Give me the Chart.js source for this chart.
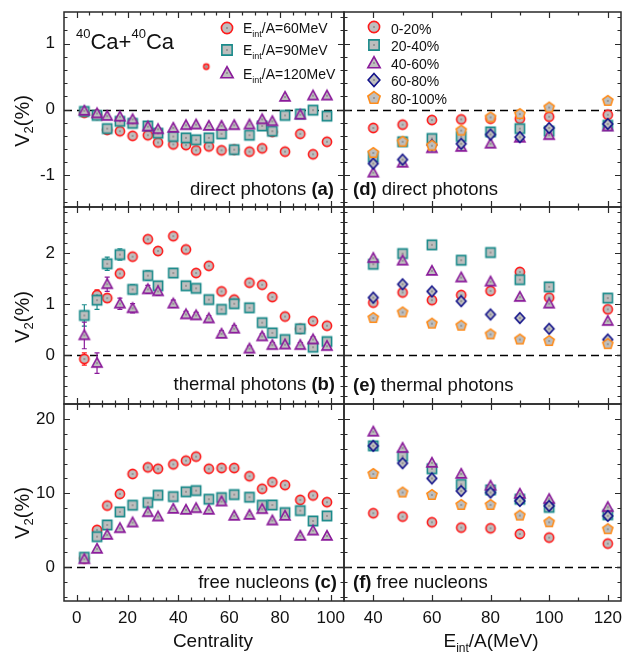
<!DOCTYPE html>
<html>
<head>
<meta charset="utf-8">
<script src="https://cdn.jsdelivr.net/npm/chart.js@4.4.1/dist/chart.umd.min.js"></script>
<style>
  html, body { margin: 0; padding: 0; background: #fff; }
  #fig { position: relative; width: 627px; height: 657px; overflow: hidden;
         font-family: "Liberation Sans", Arial, Helvetica, sans-serif; color: #111; }
  #fig canvas.panel { position: absolute; left: 0; top: 0; }
  .txt { position: absolute; white-space: nowrap; line-height: 1; }
  .txt sub { font-size: 9px; vertical-align: -4px; line-height: 0; }
  .big sub { font-size: 12px; vertical-align: -5px; }
  .txt sup { font-size: 13px; vertical-align: 11px; line-height: 0; }
  .ytitle { font-size: 20px; transform: translate(-50%, -50%) rotate(-90deg); }
  .ytitle sub { font-size: 13px; vertical-align: -4px; }
  .icon { position: absolute; }
</style>
</head>
<body>
<div id="fig">
  <canvas id="pa" class="panel" width="627" height="657"></canvas>
  <canvas id="pb" class="panel" width="627" height="657"></canvas>
  <canvas id="pc" class="panel" width="627" height="657"></canvas>
  <canvas id="pd" class="panel" width="627" height="657"></canvas>
  <canvas id="pe" class="panel" width="627" height="657"></canvas>
  <canvas id="pf" class="panel" width="627" height="657"></canvas>

  <div class="txt" style="left:76px; top:31.4px; font-size:22px;"><sup>40</sup>Ca+<sup>40</sup>Ca</div>

  <div class="txt" style="left:243px; top:21.4px; font-size:14px;">E<sub>int</sub>/A=60MeV</div>
  <div class="txt" style="left:243px; top:43.1px; font-size:14px;">E<sub>int</sub>/A=90MeV</div>
  <div class="txt" style="left:243px; top:66.6px; font-size:14px;">E<sub>int</sub>/A=120MeV</div>

  <div class="txt" style="left:391px; top:21.6px; font-size:14px;">0-20%</div>
  <div class="txt" style="left:391px; top:39.1px; font-size:14px;">20-40%</div>
  <div class="txt" style="left:391px; top:56.6px; font-size:14px;">40-60%</div>
  <div class="txt" style="left:391px; top:74.1px; font-size:14px;">60-80%</div>
  <div class="txt" style="left:391px; top:91.6px; font-size:14px;">80-100%</div>

  <div class="txt" style="right:293px; top:179.8px; font-size:18.5px;">direct photons <b>(a)</b></div>
  <div class="txt" style="left:353px; top:179.8px; font-size:18.5px;"><b>(d)</b> direct photons</div>
  <div class="txt" style="right:292px; top:375.3px; font-size:18.5px;">thermal photons <b>(b)</b></div>
  <div class="txt" style="left:353px; top:375.8px; font-size:18.5px;"><b>(e)</b> thermal photons</div>
  <div class="txt" style="right:290px; top:573.3px; font-size:18.5px;">free nucleons <b>(c)</b></div>
  <div class="txt" style="left:353px; top:573.3px; font-size:18.5px;"><b>(f)</b> free nucleons</div>

  <div class="txt" style="left:213px; top:631.2px; font-size:19px; transform:translateX(-50%);">Centrality</div>
  <div class="txt big" style="left:491px; top:631.2px; font-size:19px; transform:translateX(-50%);">E<sub>int</sub>/A(MeV)</div>

  <div class="txt ytitle" style="left:22px; top:121px;">V<sub>2</sub>(%)</div>
  <div class="txt ytitle" style="left:22px; top:317px;">V<sub>2</sub>(%)</div>
  <div class="txt ytitle" style="left:22px; top:513px;">V<sub>2</sub>(%)</div>
</div>

<script>
// x values
const centrality = [3, 8, 12, 17, 22, 28, 32, 38, 43, 47, 52, 57, 62, 68, 73, 77, 82, 88, 93, 98.5];
const energy = [40, 50, 60, 70, 80, 90, 100, 120];

// (a) direct photons vs centrality
const dirPh60 = [-0.05, -0.08, -0.31, -0.33, -0.40, -0.39, -0.50, -0.53, -0.54, -0.62, -0.56, -0.62, -0.61, -0.64, -0.59, -0.34, -0.64, -0.37, -0.68, -0.49];
const dirPh90 = [-0.03, -0.09, -0.29, -0.18, -0.21, -0.25, -0.36, -0.41, -0.43, -0.46, -0.43, -0.37, -0.61, -0.39, -0.25, -0.33, -0.09, -0.07, -0.01, -0.10];
const dirPh120 = [-0.02, -0.06, -0.10, -0.11, -0.15, -0.26, -0.30, -0.28, -0.24, -0.23, -0.25, -0.25, -0.24, -0.23, -0.15, -0.18, 0.19, -0.08, 0.21, 0.21];
const strayCent = [51];
const strayV2 = [0.65];

// (b) thermal photons vs centrality
const thPh60 = [-0.07, 1.18, 1.12, 1.60, 1.93, 2.27, 2.04, 2.33, 2.07, 1.61, 1.75, 1.25, 1.09, 1.42, 1.38, 1.14, 0.76, 0.52, 0.67, 0.58];
const thPh90 = [0.78, 1.08, 1.79, 1.97, 1.29, 1.56, 1.36, 1.61, 1.36, 1.31, 1.09, 0.90, 1.01, 0.93, 0.64, 0.44, 0.31, 0.52, 0.16, 0.27];
const thPh120 = [0.39, -0.15, 1.39, 1.01, 0.92, 1.29, 1.25, 1.01, 0.80, 0.78, 0.72, 0.42, 0.52, 0.13, 0.37, 0.20, 0.21, 0.20, 0.31, 0.18];
const thErr60 = [0.12, 0.10, 0.08, 0.08, 0.07, 0.07, 0.07, 0.07, 0.06, 0.06, 0.06, 0.05, 0.05, 0.05, 0.05, 0.05, 0.05, 0.05, 0.05, 0.05];
const thErr90 = [0.21, 0.18, 0.13, 0.11, 0.09, 0.09, 0.08, 0.07, 0.07, 0.06, 0.06, 0.05, 0.05, 0.05, 0.05, 0.05, 0.05, 0.05, 0.05, 0.05];
const thErr120 = [0.26, 0.20, 0.14, 0.11, 0.09, 0.08, 0.08, 0.07, 0.06, 0.06, 0.06, 0.06, 0.06, 0.05, 0.05, 0.05, 0.05, 0.05, 0.05, 0.05];

// (c) free nucleons vs centrality
const nuc60 = [1.2, 5.05, 8.33, 9.91, 12.6, 13.5, 13.3, 13.9, 14.4, 14.95, 13.3, 13.4, 13.4, 12.3, 10.6, 11.5, 11.1, 9.1, 9.7, 8.8];
const nuc90 = [1.35, 4.14, 5.72, 7.48, 8.38, 8.74, 9.73, 9.55, 10.2, 10.36, 9.19, 9.41, 9.82, 9.46, 8.38, 8.42, 7.39, 7.66, 6.26, 6.94];
const nuc120 = [1.08, 2.48, 4.37, 5.27, 6.04, 7.43, 6.85, 7.88, 7.75, 7.97, 7.75, 8.87, 6.94, 7.07, 7.84, 6.31, 6.94, 4.23, 4.95, 4.23];

// (d) direct photons vs energy, centrality classes
const dirE0 = [-0.28, -0.23, -0.16, -0.15, -0.14, -0.14, -0.11, -0.08];
const dirE20 = [-0.72, -0.49, -0.44, -0.41, -0.34, -0.29, -0.33, -0.24];
const dirE40 = [-0.96, -0.81, -0.59, -0.57, -0.52, -0.43, -0.39, -0.26];
const dirE60 = [-0.82, -0.76, -0.54, -0.52, -0.38, -0.42, -0.28, -0.22];
const dirE80 = [-0.66, -0.49, -0.55, -0.32, -0.12, -0.07, 0.03, 0.13];

// (e) thermal photons vs energy
const thE0 = [1.03, 1.23, 1.08, 1.18, 1.26, 1.63, 1.13, 0.90];
const thE20 = [1.78, 1.99, 2.16, 1.86, 2.01, 1.48, 1.34, 1.12];
const thE40 = [1.90, 1.85, 1.65, 1.52, 1.44, 1.14, 1.01, 0.67];
const thE60 = [1.13, 1.39, 1.25, 1.06, 0.80, 0.73, 0.52, 0.31];
const thE80 = [0.73, 0.84, 0.62, 0.58, 0.41, 0.31, 0.28, 0.22];

// (f) free nucleons vs energy
const nucE0 = [7.30, 6.85, 6.08, 5.36, 5.27, 4.50, 4.01, 3.20];
const nucE20 = [16.4, 15.0, 13.3, 11.2, 10.45, 9.19, 8.1, 7.1];
const nucE40 = [18.3, 16.1, 14.1, 12.6, 11.0, 9.91, 9.19, 8.11];
const nucE60 = [16.4, 14.05, 12.0, 10.3, 10.1, 8.96, 8.29, 6.94];
const nucE80 = [12.6, 10.1, 9.77, 8.42, 8.42, 6.98, 6.08, 5.14];

// tick labels
const xTicksCent = [0, 20, 40, 60, 80, 100];
const xTicksEnergy = [40, 60, 80, 100, 120];
const yTicksDirect = [-1, 0, 1];
const yTicksThermal = [0, 1, 2];
const yTicksNucleon = [0, 10, 20];

const FONT = '"Liberation Sans", Arial, Helvetica, sans-serif';
const W = 627, H = 657, XAXIS_H = 56;
const COLS = { left: { l: 64, r: 344 }, right: { l: 344, r: 624 } };
const ROWS = [{ t: 12, b: 207 }, { t: 207, b: 404 }, { t: 404, b: 601 }];

const RED = '#ff1a1a', TEAL = '#1a8a8a', PURPLE = '#8a1a9a', NAVY = '#12128a', ORANGE = '#ff8c1a';
const FILL = '#bebebe';

function drawMarker(ctx, shape, cx, cy, r, stroke) {
  ctx.beginPath();
  if (shape === 'circle') {
    ctx.arc(cx, cy, r, 0, Math.PI * 2);
  } else if (shape === 'square') {
    ctx.rect(cx - r, cy - r, 2 * r, 2 * r);
  } else if (shape === 'triangle') {
    ctx.moveTo(cx, cy - 1.15 * r);
    ctx.lineTo(cx + 1.1 * r, cy + 0.85 * r);
    ctx.lineTo(cx - 1.1 * r, cy + 0.85 * r);
    ctx.closePath();
  } else if (shape === 'diamond') {
    ctx.moveTo(cx, cy - 1.15 * r);
    ctx.lineTo(cx + 1.05 * r, cy);
    ctx.lineTo(cx, cy + 1.15 * r);
    ctx.lineTo(cx - 1.05 * r, cy);
    ctx.closePath();
  } else if (shape === 'pentagon') {
    for (let k = 0; k < 5; k++) {
      const a = -Math.PI / 2 + k * 2 * Math.PI / 5;
      const px = cx + 1.15 * r * Math.cos(a), py = cy + 1.15 * r * Math.sin(a);
      k ? ctx.lineTo(px, py) : ctx.moveTo(px, py);
    }
    ctx.closePath();
  }
  ctx.fillStyle = FILL;
  ctx.fill();
  ctx.lineWidth = 1.6;
  ctx.strokeStyle = stroke;
  ctx.stroke();
  ctx.fillStyle = '#555';
  ctx.fillRect(cx - 0.6, cy - 0.6, 1.2, 1.2);
}

function makeMarker(shape, stroke, r) {
  const s = 2 * Math.ceil(1.3 * r + 2);
  const c = document.createElement('canvas');
  c.width = s; c.height = s;
  drawMarker(c.getContext('2d'), shape, s / 2, s / 2, r, stroke);
  return c;
}

function addIcon(shape, stroke, cx, cy, r) {
  const c = makeMarker(shape, stroke, r);
  c.className = 'icon';
  c.style.left = (cx - c.width / 2) + 'px';
  c.style.top = (cy - c.height / 2) + 'px';
  document.getElementById('fig').appendChild(c);
}

const R = 4.6;
const mk = {
  circle: makeMarker('circle', RED, R),
  square: makeMarker('square', TEAL, R),
  triangle: makeMarker('triangle', PURPLE, R),
  diamond: makeMarker('diamond', NAVY, R),
  pentagon: makeMarker('pentagon', ORANGE, R),
  small: makeMarker('circle', RED, 2.6)
};

// dashed zero line, frame and inward ticks on all four sides
const frameTicks = {
  id: 'frameTicks',
  beforeDatasetsDraw(chart) {
    const { left, right } = chart.chartArea;
    const ctx = chart.ctx;
    const y0 = Math.round(chart.scales.y.getPixelForValue(0)) + 0.5;
    ctx.save();
    ctx.strokeStyle = '#000';
    ctx.lineWidth = 1.4;
    ctx.setLineDash([8, 5]);
    ctx.beginPath();
    ctx.moveTo(left, y0);
    ctx.lineTo(right, y0);
    ctx.stroke();
    ctx.restore();
  },
  afterDatasetsDraw(chart, args, opts) {
    const area = chart.chartArea;
    const ctx = chart.ctx;
    ctx.save();
    ctx.strokeStyle = '#2a2a2a';
    ctx.lineWidth = 1.2;
    const sides = [
      [chart.scales.x, true, opts.xMajor, opts.xMinor],
      [chart.scales.y, false, opts.yMajor, opts.yMinor]
    ];
    ctx.beginPath();
    sides.forEach(([scale, horiz, major, step]) => {
      const list = major.map(v => [v, 6]);
      const k0 = Math.ceil(scale.min / step - 1e-9), k1 = Math.floor(scale.max / step + 1e-9);
      for (let k = k0; k <= k1; k++) {
        const v = +(k * step).toFixed(6);
        if (!major.some(m => Math.abs(m - v) < 1e-9)) list.push([v, 3.5]);
      }
      list.forEach(([v, len]) => {
        const p = Math.round(scale.getPixelForValue(v)) + 0.5;
        if (horiz) {
          if (p < area.left + 2 || p > area.right - 2) return;
          ctx.moveTo(p, area.top); ctx.lineTo(p, area.top + len);
          ctx.moveTo(p, area.bottom); ctx.lineTo(p, area.bottom - len);
        } else {
          if (p < area.top + 2 || p > area.bottom - 2) return;
          ctx.moveTo(area.left, p); ctx.lineTo(area.left + len, p);
          ctx.moveTo(area.right, p); ctx.lineTo(area.right - len, p);
        }
      });
    });
    ctx.stroke();
    ctx.lineWidth = 1.5;
    ctx.strokeRect(area.left, area.top, area.right - area.left, area.bottom - area.top);
    ctx.restore();
  }
};

const errorBars = {
  id: 'errorBars',
  beforeDatasetsDraw(chart) {
    const ctx = chart.ctx, ys = chart.scales.y;
    chart.data.datasets.forEach((ds, i) => {
      if (!ds.errors) return;
      const meta = chart.getDatasetMeta(i);
      ctx.save();
      ctx.strokeStyle = ds.errColor;
      ctx.lineWidth = 1.2;
      ctx.beginPath();
      meta.data.forEach((pt, k) => {
        const v = ds.data[k].y, e = ds.errors[k];
        const y1 = ys.getPixelForValue(v + e), y2 = ys.getPixelForValue(v - e);
        ctx.moveTo(pt.x, y1); ctx.lineTo(pt.x, y2);
        ctx.moveTo(pt.x - 2.5, y1); ctx.lineTo(pt.x + 2.5, y1);
        ctx.moveTo(pt.x - 2.5, y2); ctx.lineTo(pt.x + 2.5, y2);
      });
      ctx.stroke();
      ctx.restore();
    });
  }
};

function panel(id, p) {
  const isLeft = p.col === 'left';
  const col = COLS[p.col];
  const row = ROWS[p.row];
  const showX = p.row === 2;
  const tickFont = { family: FONT, size: 17 };
  const n = p.series.length;
  return new Chart(document.getElementById(id), {
    type: 'scatter',
    data: {
      datasets: p.series.map((s, i) => ({
        data: s.x.map((x, k) => ({ x, y: s.y[k] })),
        pointStyle: s.marker,
        pointRadius: 5,
        pointHoverRadius: 5,
        errors: s.err || null,
        errColor: s.color,
        order: n - i
      }))
    },
    options: {
      responsive: false,
      animation: false,
      events: [],
      layout: {
        padding: {
          left: isLeft ? 0 : col.l,
          right: W - col.r,
          top: row.t,
          bottom: H - row.b - (showX ? XAXIS_H : 0)
        }
      },
      plugins: {
        legend: { display: false },
        tooltip: { enabled: false },
        frameTicks: { xMajor: p.xTicks, xMinor: p.xMinor, yMajor: p.yTicks, yMinor: p.yMinor }
      },
      scales: {
        x: {
          type: 'linear',
          min: p.xMin,
          max: p.xMax,
          display: showX,
          grid: { display: false, drawTicks: false },
          border: { display: false },
          ticks: { font: tickFont, color: '#111', padding: 7, maxRotation: 0, autoSkip: false, callback: v => String(v) },
          afterBuildTicks: axis => { axis.ticks = p.xTicks.map(v => ({ value: v })); },
          afterFit: axis => {
            axis.height = showX ? XAXIS_H : 0;
            axis.paddingLeft = 0;
            axis.paddingRight = 0;
          }
        },
        y: {
          type: 'linear',
          min: p.yMin,
          max: p.yMax,
          display: isLeft,
          grid: { display: false, drawTicks: false },
          border: { display: false },
          ticks: { font: tickFont, color: '#111', padding: 9, autoSkip: false, callback: v => String(v) },
          afterBuildTicks: axis => { axis.ticks = p.yTicks.map(v => ({ value: v })); },
          afterFit: axis => {
            axis.width = isLeft ? COLS.left.l : 0;
            axis.paddingTop = 0;
            axis.paddingBottom = 0;
          }
        }
      }
    },
    plugins: [frameTicks, errorBars]
  });
}

const centCfg = { col: 'left', xMin: -5, xMax: 105.2, xTicks: xTicksCent, xMinor: 5 };
const enCfg = { col: 'right', xMin: 30, xMax: 124.5, xTicks: xTicksEnergy, xMinor: 10 };
const rowA = { row: 0, yMin: -1.48, yMax: 1.48, yTicks: yTicksDirect, yMinor: 0.2 };
const rowB = { row: 1, yMin: -0.95, yMax: 2.9, yTicks: yTicksThermal, yMinor: 0.2 };
const rowC = { row: 2, yMin: -4.55, yMax: 22.05, yTicks: yTicksNucleon, yMinor: 2 };

const byEnergy = (a, b, c, d, e) => [
  { x: energy, y: a, marker: mk.circle, color: RED },
  { x: energy, y: b, marker: mk.square, color: TEAL },
  { x: energy, y: c, marker: mk.triangle, color: PURPLE },
  { x: energy, y: d, marker: mk.diamond, color: NAVY },
  { x: energy, y: e, marker: mk.pentagon, color: ORANGE }
];

panel('pa', Object.assign({}, centCfg, rowA, { series: [
  { x: strayCent, y: strayV2, marker: mk.small, color: RED },
  { x: centrality, y: dirPh60, marker: mk.circle, color: RED },
  { x: centrality, y: dirPh90, marker: mk.square, color: TEAL },
  { x: centrality, y: dirPh120, marker: mk.triangle, color: PURPLE }
] }));
panel('pb', Object.assign({}, centCfg, rowB, { series: [
  { x: centrality, y: thPh60, err: thErr60, marker: mk.circle, color: RED },
  { x: centrality, y: thPh90, err: thErr90, marker: mk.square, color: TEAL },
  { x: centrality, y: thPh120, err: thErr120, marker: mk.triangle, color: PURPLE }
] }));
panel('pc', Object.assign({}, centCfg, rowC, { series: [
  { x: centrality, y: nuc60, marker: mk.circle, color: RED },
  { x: centrality, y: nuc90, marker: mk.square, color: TEAL },
  { x: centrality, y: nuc120, marker: mk.triangle, color: PURPLE }
] }));
panel('pd', Object.assign({}, enCfg, rowA, { series: byEnergy(dirE0, dirE20, dirE40, dirE60, dirE80) }));
panel('pe', Object.assign({}, enCfg, rowB, { series: byEnergy(thE0, thE20, thE40, thE60, thE80) }));
panel('pf', Object.assign({}, enCfg, rowC, { series: byEnergy(nucE0, nucE20, nucE40, nucE60, nucE80) }));

// legend icons
const LR = 5.6;
addIcon('circle', RED, 227, 28, LR);
addIcon('square', TEAL, 227, 49.5, LR * 0.92);
addIcon('triangle', PURPLE, 227, 73, LR);
addIcon('circle', RED, 374, 27, LR);
addIcon('square', TEAL, 374, 45, LR * 0.92);
addIcon('triangle', PURPLE, 374, 62.5, LR);
addIcon('diamond', NAVY, 374, 80, LR);
addIcon('pentagon', ORANGE, 374, 98, LR);
</script>
</body>
</html>
